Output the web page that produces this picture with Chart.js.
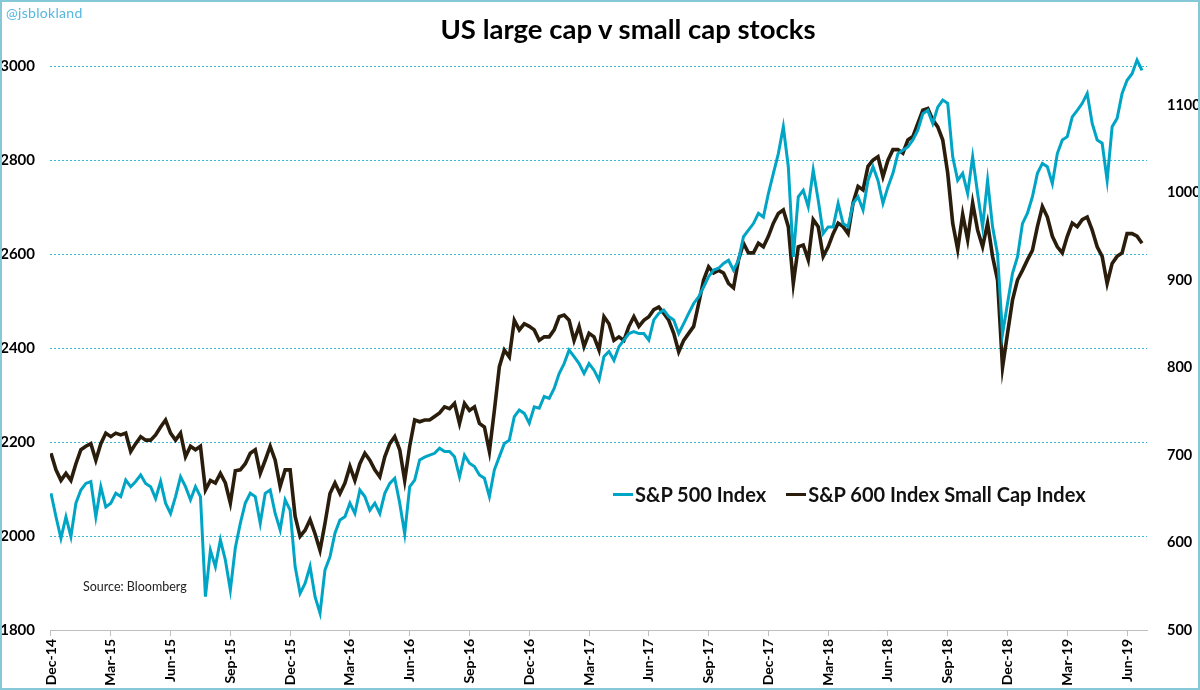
<!DOCTYPE html>
<html>
<head>
<meta charset="utf-8">
<script src="https://cdn.jsdelivr.net/npm/chart.js@4.4.0/dist/chart.umd.min.js"></script>
<style>
  body { margin: 0; background: #fff; }
  #wrap { position: relative; width: 1200px; height: 690px; font-family: Lato, "Open Sans", sans-serif; }
  #frame { position: absolute; left: 0; top: 0; width: 1200px; height: 690px; box-sizing: border-box; border: 2px solid #86c8d8; pointer-events: none; }
  #handle { position: absolute; left: 6px; top: 4px; font-size: 14px; color: #55b6de; letter-spacing: 0.3px; }
  #title { position: absolute; left: 628px; top: 14px; transform: translateX(-50%); font-size: 27.5px; font-weight: 700; color: #000; white-space: nowrap; line-height: 30px; }
  #legend { position: absolute; left: 613px; top: 482px; display: flex; align-items: center; font-size: 20px; font-weight: 700; color: #111; white-space: nowrap; }
  #legend .key { display: inline-block; width: 20px; height: 3px; margin-right: 2px; }
  #legend .item { display: flex; align-items: center; margin-right: 20px; }
  #source { position: absolute; left: 83px; top: 579px; font-size: 12.5px; color: #222; }
</style>
</head>
<body>
<div id="wrap">
  <canvas id="chart" width="1200" height="690"></canvas>
  <div id="handle">@jsblokland</div>
  <div id="title">US large cap v small cap stocks</div>
  <div id="legend">
    <span class="item"><span class="key" style="background:#00a5c6"></span>S&amp;P 500 Index</span>
    <span class="item"><span class="key" style="background:#2b1d0c"></span>S&amp;P 600 Index Small Cap Index</span>
  </div>
  <div id="source">Source: Bloomberg</div>
  <div id="frame"></div>
</div>
<script>
// 週次データ（Dec-14 から約 0.25 か月刻み）
const stepMonths = 0.25;

const quarterLabels = [
  "Dec-14", "Mar-15", "Jun-15", "Sep-15", "Dec-15", "Mar-16", "Jun-16",
  "Sep-16", "Dec-16", "Mar-17", "Jun-17", "Sep-17", "Dec-17", "Mar-18",
  "Jun-18", "Sep-18", "Dec-18", "Mar-19", "Jun-19",
];

const leftTicks = [1800, 2000, 2200, 2400, 2600, 2800, 3000];
const rightTicks = [500, 600, 700, 800, 900, 1000, 1100];

const sp500 = [
  2091, 2041, 1995, 2041, 1999, 2070, 2098, 2112, 2116, 2041,
  2105, 2062, 2070, 2091, 2084, 2119, 2105, 2116, 2130, 2112,
  2105, 2080, 2116, 2070, 2048, 2084, 2126, 2105, 2077, 2105,
  2084, 1871, 1970, 1935, 1992, 1949, 1885, 1975, 2027, 2070,
  2091, 2084, 2027, 2091, 2098, 2048, 2013, 2077, 2055, 1935,
  1878, 1899, 1935, 1871, 1836, 1928, 1956, 2006, 2034, 2041,
  2070, 2048, 2098, 2084, 2055, 2070, 2048, 2091, 2112, 2123,
  2070, 2005, 2105, 2119, 2162, 2168, 2172, 2176, 2187, 2180,
  2180, 2169, 2126, 2172, 2155, 2148, 2130, 2123, 2084, 2141,
  2169, 2197, 2204, 2254, 2268, 2261, 2240, 2275, 2272, 2297,
  2293, 2314, 2346, 2367, 2396, 2382, 2367, 2346, 2367, 2353,
  2332, 2382, 2393, 2374, 2403, 2417, 2431, 2435, 2431, 2431,
  2417, 2460, 2474, 2481, 2467, 2460, 2431, 2452, 2474, 2495,
  2509, 2530, 2552, 2566, 2570, 2580, 2587, 2566, 2587, 2637,
  2651, 2665, 2687, 2679, 2729, 2772, 2814, 2871, 2786, 2594,
  2722, 2736, 2701, 2779, 2715, 2644, 2658, 2658, 2708, 2665,
  2658, 2708, 2722, 2694, 2757, 2786, 2757, 2708, 2743, 2772,
  2814, 2821, 2828, 2843, 2864, 2899, 2906, 2878, 2913, 2928,
  2921, 2807, 2757, 2772, 2729, 2807, 2729, 2658, 2757, 2658,
  2600, 2430, 2495, 2559, 2594, 2665, 2687, 2722, 2772, 2793,
  2786, 2750, 2814, 2843, 2850, 2892, 2906, 2921, 2942, 2878,
  2843, 2836, 2757, 2871, 2889, 2942, 2970, 2984, 3013, 2991,
];

const sp600 = [
  702, 683, 671, 679, 671, 690, 706, 710, 713, 694,
  713, 725, 721, 725, 723, 725, 704, 713, 721, 717,
  717, 723, 732, 740, 725, 717, 725, 698, 710, 706,
  710, 660, 671, 668, 679, 668, 645, 682, 683, 690,
  702, 706, 679, 694, 710, 694, 664, 683, 683, 630,
  607, 614, 626, 610, 591, 622, 656, 668, 656, 668,
  687, 671, 690, 702, 694, 683, 675, 698, 713, 721,
  706, 671, 710, 740, 738, 740, 740, 744, 748, 755,
  753, 759, 736, 759, 751, 755, 736, 732, 704, 751,
  801, 820, 812, 854, 843, 850, 847, 843, 831, 835,
  835, 843, 858, 860, 854, 831, 847, 824, 839, 835,
  820, 858, 850, 831, 835, 831, 847, 858, 847, 854,
  858, 866, 869, 862, 854, 839, 818, 831, 839, 847,
  873, 900, 915, 908, 911, 908, 896, 891, 923, 942,
  931, 931, 942, 938, 950, 965, 976, 980, 961, 896,
  938, 940, 923, 969, 961, 927, 938, 953, 965, 961,
  953, 988, 1007, 1003, 1030, 1037, 1041, 1018, 1037, 1049,
  1049, 1045, 1060, 1064, 1079, 1094, 1096, 1083, 1075, 1060,
  1022, 965, 935, 975, 946, 988, 957, 938, 965, 927,
  900, 800, 839, 877, 900, 911, 923, 934, 961, 984,
  972, 950, 938, 931, 950, 965, 961, 969, 972, 957,
  938, 927, 896, 919, 927, 931, 953, 953, 950, 942,
];

const blue = "#00a5c6";
const dark = "#2b1d0c";

Chart.defaults.font.family = "Lato, 'Open Sans', sans-serif";
Chart.defaults.color = "#000";

const toPoints = (arr) => arr.map((v, i) => ({ x: i * stepMonths, y: v }));

new Chart(document.getElementById("chart"), {
  type: "line",
  data: {
    datasets: [
      {
        label: "S&P 500 Index",
        data: toPoints(sp500),
        yAxisID: "y",
        borderColor: blue,
        borderWidth: 3,
        pointRadius: 0,
        tension: 0,
      },
      {
        label: "S&P 600 Index Small Cap Index",
        data: toPoints(sp600),
        yAxisID: "y1",
        borderColor: dark,
        borderWidth: 3.6,
        pointRadius: 0,
        tension: 0,
      },
    ],
  },
  options: {
    responsive: false,
    animation: false,
    layout: { padding: { top: 38, left: 0, right: 0, bottom: 0 } },
    plugins: {
      legend: { display: false },
      tooltip: { enabled: false },
    },
    scales: {
      x: {
        type: "linear",
        min: -0.05,
        max: 55,
        afterBuildTicks: (scale) => {
          scale.ticks = quarterLabels.map((l, i) => ({ value: i * 3 }));
        },
        afterFit: (scale) => {
          scale.height = 60;
        },
        ticks: {
          autoSkip: false,
          minRotation: 90,
          maxRotation: 90,
          padding: 3,
          font: { size: 14, weight: "bold" },
          callback: (v) => quarterLabels[Math.round(v / 3)],
        },
        grid: { drawOnChartArea: false, color: "#bfbfbf", tickLength: 6 },
        border: { color: "#bfbfbf", width: 1 },
      },
      y: {
        position: "left",
        min: 1800,
        max: 3060,
        afterBuildTicks: (scale) => {
          scale.ticks = leftTicks.map((v) => ({ value: v }));
        },
        afterFit: (scale) => {
          scale.width = 50;
        },
        ticks: {
          padding: 15,
          font: { size: 15, weight: "bold" },
          callback: (v) => String(v),
        },
        grid: {
          drawTicks: false,
          color: (ctx) => (ctx.tick && ctx.tick.value === 1800 ? "rgba(0,0,0,0)" : "#3bbad4"),
          lineWidth: 1,
        },
        border: { display: false, dash: [2, 2] },
      },
      y1: {
        position: "right",
        min: 500,
        max: 1176.6,
        afterBuildTicks: (scale) => {
          scale.ticks = rightTicks.map((v) => ({ value: v }));
        },
        afterFit: (scale) => {
          scale.width = 53;
        },
        ticks: {
          padding: 12,
          font: { size: 14.5, weight: "bold" },
          callback: (v) => String(v),
        },
        grid: { display: false },
        border: { display: false },
      },
    },
  },
});
</script>
</body>
</html>
